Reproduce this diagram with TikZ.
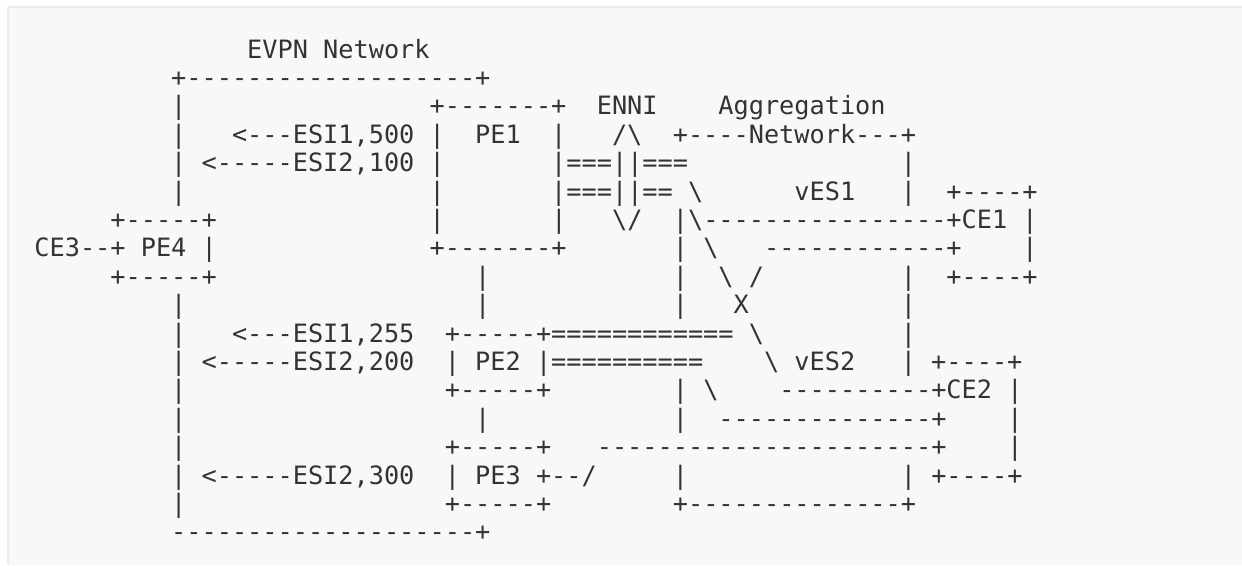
\documentclass[tikz,border=0pt]{standalone}
\usepackage{fontspec}
\setmonofont{DejaVu Sans Mono}
\definecolor{ink}{HTML}{333333}
\definecolor{panel}{HTML}{F8F8F8}
\definecolor{rulegray}{HTML}{EBEBEB}
\newcommand\gap[1]{\hskip #1\fontcharwd\font`X\relax}
\newcommand\bs{\textbackslash}
\tikzset{asc/.style={anchor=base west, inner sep=0pt, outer sep=0pt, text=ink,
  font=\ttfamily\fontsize{25.25pt}{28.4pt}\selectfont}}
\newcommand\asciirow[3]{\node[asc] (r#1) at ({34.4+15.2*#2},{-58-28.4*#1}) {#3};}
\begin{document}
\begin{tikzpicture}[x=1pt,y=1pt]
\useasboundingbox (0,0) rectangle (1242,-565);
\fill[white] (0,0) rectangle (1242,-565);
\fill[panel] (8,-7) rectangle (1242,-565);
\draw[rulegray, line width=2pt] (8,-7) -- (1242,-7);
\draw[rulegray, line width=2pt] (8,-7) -- (8,-565);
\asciirow{0}{14}{EVPN\gap{1}Network}
\asciirow{1}{9}{+-------------------+}
\asciirow{2}{9}{|\gap{16}+-------+\gap{2}ENNI\gap{4}Aggregation}
\asciirow{3}{9}{|\gap{3}<---ESI1,500\gap{1}|\gap{2}PE1\gap{2}|\gap{3}/\bs\gap{2}+----Network---+}
\asciirow{4}{9}{|\gap{1}<-----ESI2,100\gap{1}|\gap{7}|===||===\gap{14}|}
\asciirow{5}{9}{|\gap{16}|\gap{7}|===||==\gap{1}\bs\gap{6}vES1\gap{3}|\gap{2}+----+}
\asciirow{6}{5}{+-----+\gap{14}|\gap{7}|\gap{3}\bs/\gap{2}|\bs----------------+CE1\gap{1}|}
\asciirow{7}{0}{CE3--+\gap{1}PE4\gap{1}|\gap{14}+-------+\gap{7}|\gap{1}\bs\gap{3}------------+\gap{4}|}
\asciirow{8}{5}{+-----+\gap{17}|\gap{12}|\gap{2}\bs\gap{1}/\gap{9}|\gap{2}+----+}
\asciirow{9}{9}{|\gap{19}|\gap{12}|\gap{3}X\gap{10}|}
\asciirow{10}{9}{|\gap{3}<---ESI1,255\gap{2}+-----+============\gap{1}\bs\gap{9}|}
\asciirow{11}{9}{|\gap{1}<-----ESI2,200\gap{2}|\gap{1}PE2\gap{1}|==========\gap{4}\bs\gap{1}vES2\gap{3}|\gap{1}+----+}
\asciirow{12}{9}{|\gap{17}+-----+\gap{8}|\gap{1}\bs\gap{4}----------+CE2\gap{1}|}
\asciirow{13}{9}{|\gap{19}|\gap{12}|\gap{2}--------------+\gap{4}|}
\asciirow{14}{9}{|\gap{17}+-----+\gap{3}----------------------+\gap{4}|}
\asciirow{15}{9}{|\gap{1}<-----ESI2,300\gap{2}|\gap{1}PE3\gap{1}+--/\gap{5}|\gap{14}|\gap{1}+----+}
\asciirow{16}{9}{|\gap{17}+-----+\gap{8}+--------------+}
\asciirow{17}{9}{--------------------+}
\end{tikzpicture}
\end{document}
